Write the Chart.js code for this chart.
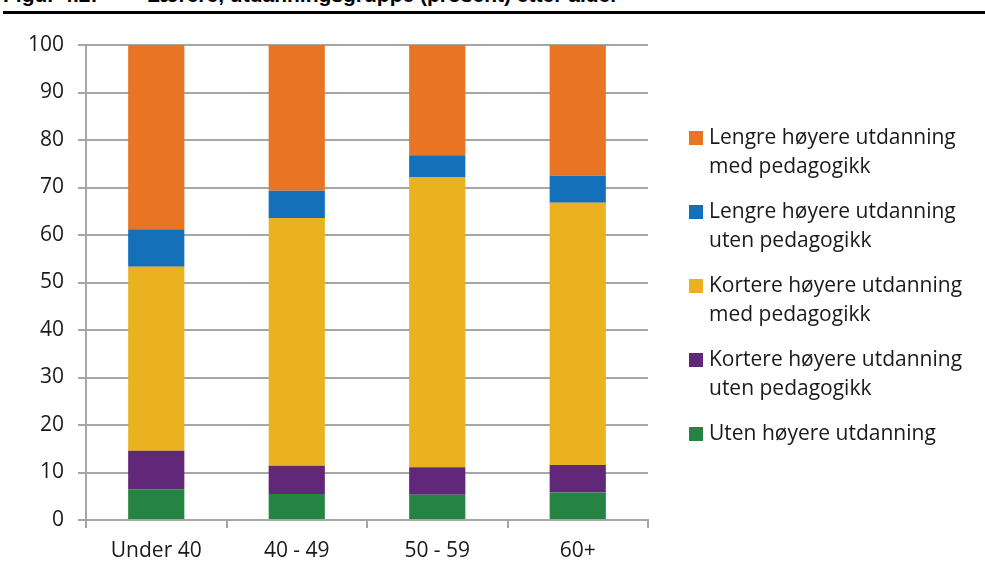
<!DOCTYPE html>
<html>
<head>
<meta charset="utf-8">
<script src="https://cdn.jsdelivr.net/npm/chart.js@4"></script>
<style>
  html, body { margin: 0; padding: 0; background: #fff; }
  body { width: 985px; height: 579px; position: relative; overflow: hidden; }
  .title { position: absolute; top: -17px; font: bold 21px "Liberation Sans", Arial, sans-serif; color: #000; white-space: pre; }
  #rule { position: absolute; left: 3px; right: 0; top: 11px; height: 3px; background: #000; }
  #wrap { position: absolute; left: 0; top: 0; width: 985px; height: 579px; }
  #legend { position: absolute; left: 689px; top: 122px; font: 21px "Open Sans", "Noto Sans", sans-serif; color: #1a1a1a; }
  .item { position: relative; padding-left: 20px; line-height: 29px; height: 74px; white-space: nowrap; }
  .box { position: absolute; left: 0; top: 9px; width: 14px; height: 14px; }
</style>
</head>
<body>
<div class="title" style="left:3px">Figur 4.2:</div>
<div class="title" style="left:147px">Lærere, utdanningsgruppe (prosent) etter alder</div>
<div id="rule"></div>
<div id="wrap"><canvas id="grafico"></canvas></div>
<div id="legend"></div>
<script>
const categories = ['Under 40', '40 - 49', '50 - 59', '60+'];
const yTicks = [0, 10, 20, 30, 40, 50, 60, 70, 80, 90, 100];

// bottom to top in the stack
const utenHoyere = [6.5, 5.5, 5.3, 5.8];
const kortereUten = [8.1, 5.9, 5.8, 5.8];
const kortereMed = [38.7, 52.2, 61.0, 55.2];
const lengreUten = [7.9, 5.7, 4.7, 5.7];
const lengreMed = [38.8, 30.7, 23.2, 27.5];

const series = [
    { label: ['Lengre høyere utdanning', 'med pedagogikk'], data: lengreMed, color: '#E97424' },
    { label: ['Lengre høyere utdanning', 'uten pedagogikk'], data: lengreUten, color: '#1470B8' },
    { label: ['Kortere høyere utdanning', 'med pedagogikk'], data: kortereMed, color: '#EBB220' },
    { label: ['Kortere høyere utdanning', 'uten pedagogikk'], data: kortereUten, color: '#612778' },
    { label: ['Uten høyere utdanning'], data: utenHoyere, color: '#268442' }
];

const ctx = document.getElementById('grafico');
const gridColor = '#a6a6a6';
const font = { family: '"Open Sans", "Noto Sans", sans-serif', size: 21 };

const datasets = series.slice().reverse().map(s => ({
    label: s.label.join(' '),
    data: s.data,
    backgroundColor: s.color,
    borderWidth: 0,
    barPercentage: 0.4,
    categoryPercentage: 1
}));

new Chart(ctx, {
    type: 'bar',
    data: { labels: categories, datasets: datasets },
    options: {
        responsive: true,
        maintainAspectRatio: false,
        animation: false,
        layout: { padding: { top: 45, right: 337, bottom: 0, left: 0 } },
        plugins: {
            legend: { display: false },
            tooltip: { enabled: false }
        },
        scales: {
            x: {
                stacked: true,
                grid: { display: true, drawOnChartArea: false, offset: true, color: gridColor, lineWidth: 2, tickLength: 8 },
                border: { color: gridColor, width: 2 },
                ticks: { color: '#1a1a1a', font: font, padding: 10 },
                afterFit: s => { s.height = 59; }
            },
            y: {
                stacked: true,
                min: 0,
                max: 100,
                afterBuildTicks: s => { s.ticks = yTicks.map(v => ({ value: v })); },
                grid: { color: gridColor, lineWidth: 2, tickLength: 8 },
                border: { color: gridColor, width: 2 },
                ticks: { color: '#1a1a1a', font: font, padding: 14 },
                afterFit: s => { s.width = 86; }
            }
        }
    }
});

const legend = document.getElementById('legend');
series.forEach(s => {
    const item = document.createElement('div');
    item.className = 'item';
    item.innerHTML = '<span class="box" style="background:' + s.color + '"></span>' + s.label.join('<br>');
    legend.appendChild(item);
});
</script>
</body>
</html>
